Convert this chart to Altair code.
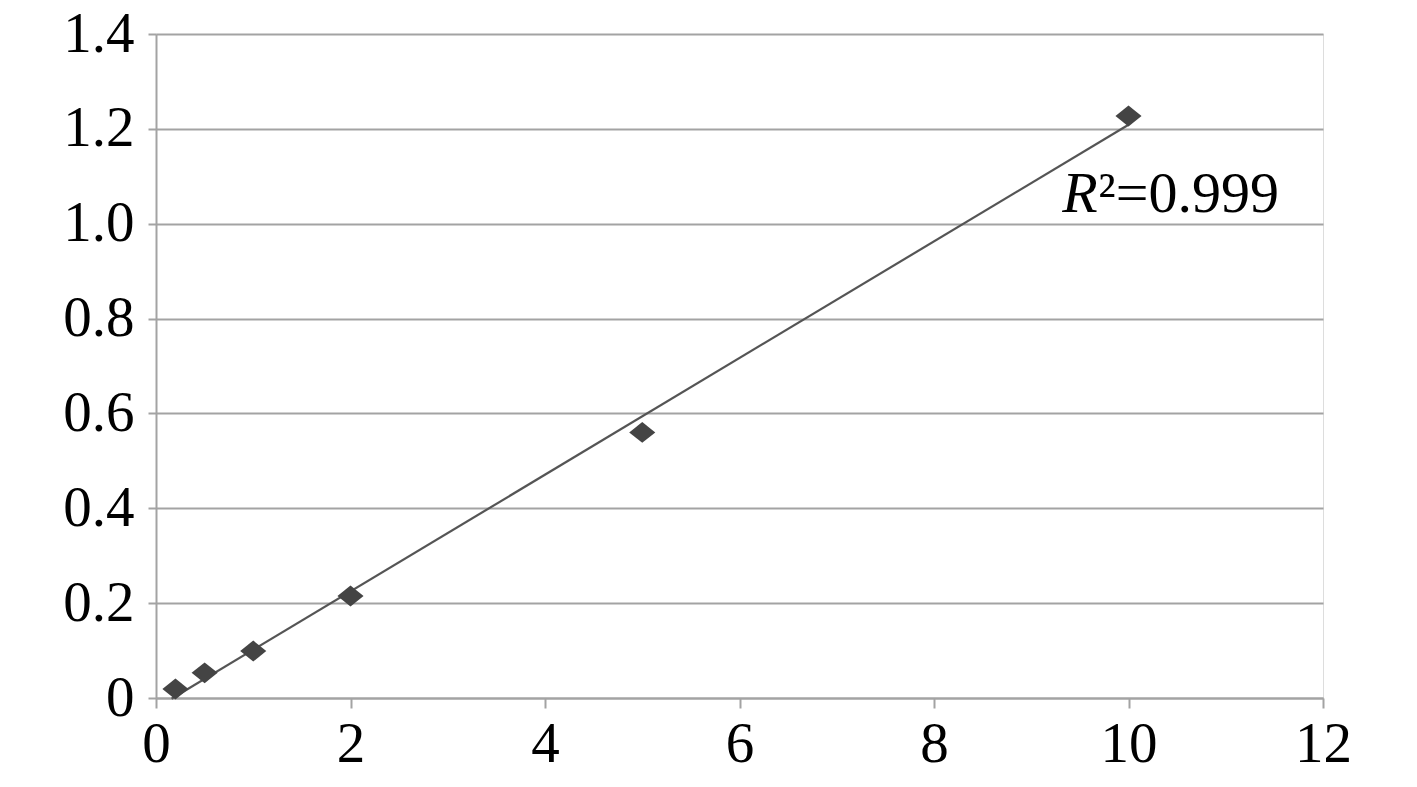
import altair as alt
import pandas as pd
import numpy as np

# data
conc = [0.2, 0.5, 1, 2, 5, 10]
absorb = [0.019, 0.053, 0.099, 0.215, 0.560, 1.227]

x_ticks = [0, 2, 4, 6, 8, 10, 12]
y_ticks = [0, 0.2, 0.4, 0.6, 0.8, 1.0, 1.2, 1.4]

trend_extent = [0.16, 10]

ann_x = [9.32]
ann_y = [1.024]
ann_r = ["R"]
ann_rest = ["\u00b2=0.999"]

df = pd.DataFrame({"x": conc, "y": absorb})
# least-squares linear trend line fitted to the data
slope, intercept = np.polyfit(np.array(conc), np.array(absorb), 1)
trend_df = pd.DataFrame({"x": trend_extent,
                         "y": [float(slope * v + intercept) for v in trend_extent]})
ann = pd.DataFrame({"x": ann_x, "y": ann_y, "r": ann_r, "rest": ann_rest})

FONT = "Liberation Serif"
FS = 57
GRAY = "#a3a3a3"

xs = alt.Scale(domain=[0, 12], nice=False, zero=True)
ys = alt.Scale(domain=[0, 1.4], nice=False, zero=True)

xenc = alt.X("x:Q", scale=xs, axis=alt.Axis(
    values=x_ticks, format="d", title=None, grid=False,
    domainColor=GRAY, domainWidth=2, tickColor=GRAY, tickWidth=2, tickSize=10,
    labelFont=FONT, labelFontSize=FS, labelColor="black", labelPadding=8,
    labelFlush=False, labelOverlap=False))
yenc = alt.Y("y:Q", scale=ys, axis=alt.Axis(
    values=y_ticks, labelExpr="datum.value == 0 ? '0' : format(datum.value, '.1f')",
    title=None, grid=True, gridColor=GRAY, gridWidth=2,
    domainColor=GRAY, domainWidth=2, tickColor=GRAY, tickWidth=2, tickSize=8,
    labelFont=FONT, labelFontSize=FS, labelColor="black", labelPadding=14,
    labelFlush=False, labelOverlap=False))

points = alt.Chart(df).mark_point(
    shape="M-1,0L0,-0.8L1,0L0,0.8Z", filled=True, size=680, color="#444444", opacity=1
).encode(x=xenc, y=yenc)

trend = alt.Chart(trend_df).mark_line(
    color="#555555", strokeWidth=2.2
).encode(x=alt.X("x:Q", scale=xs), y=alt.Y("y:Q", scale=ys))

r_text = alt.Chart(ann).mark_text(
    font=FONT, fontSize=58, fontStyle="italic", align="left", baseline="alphabetic", color="black"
).encode(x=alt.X("x:Q", scale=xs), y=alt.Y("y:Q", scale=ys), text="r:N")

rest_text = alt.Chart(ann).mark_text(
    font=FONT, fontSize=58, align="left", baseline="alphabetic", color="black", dx=36
).encode(x=alt.X("x:Q", scale=xs), y=alt.Y("y:Q", scale=ys), text="rest:N")

chart = alt.layer(trend, points, r_text, rest_text).properties(
    width=1167, height=664,
    autosize=alt.AutoSizeParams(type="none"),
    padding={"left": 148, "top": 26, "right": 80, "bottom": 80},
).configure_view(stroke=None).configure(background="white")

chart.save("out.html", embed_options={"renderer": "svg", "actions": False})
